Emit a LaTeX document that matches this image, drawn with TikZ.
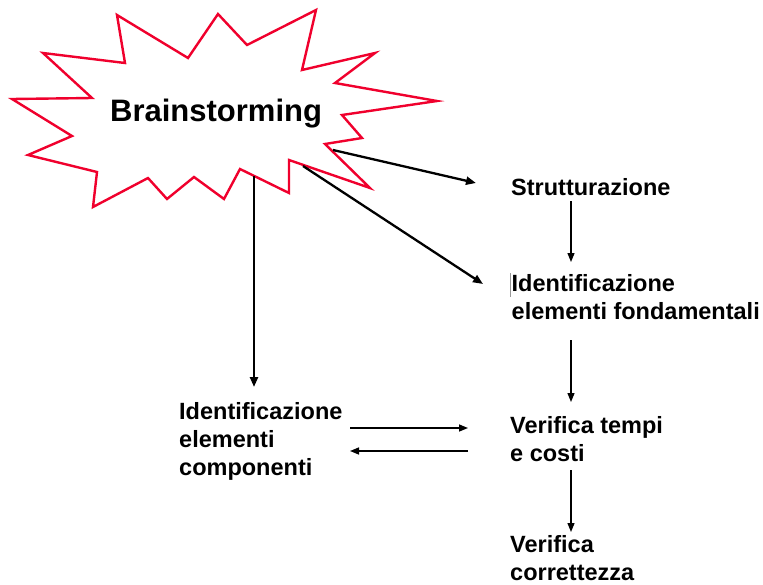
\documentclass[tikz,border=0pt]{standalone}
\usepackage{fontspec}
\setmainfont{Liberation Sans}
\usetikzlibrary{arrows.meta}
\definecolor{burst}{RGB}{240,0,45}
\begin{document}
\begin{tikzpicture}[x=1pt,y=-1pt,
  burstline/.style={draw=burst, line width=2.4pt, line join=miter, fill=white},
  lbl/.style={font=\fontsize{23.5}{28}\selectfont\bfseries, align=left, inner sep=0pt, anchor=base west},
  big/.style={font=\fontsize{31}{36}\selectfont\bfseries, inner sep=0pt, anchor=base west},
  heavy/.style={line width=2.3pt, -{Triangle[length=10pt,width=8pt]}},
  medium/.style={line width=1.5pt, -{Triangle[length=9pt,width=7pt]}},
  light/.style={line width=1.2pt, -{Triangle[length=9pt,width=7pt]}},
]
\useasboundingbox (0,0) rectangle (763,584);
\fill[white] (0,0) rectangle (763,584);

% starburst outline around the title
\draw[burstline] (12,99) -- (92,98) -- (43,53) -- (125,63) -- (117,15)
  -- (188,58) -- (218,14) -- (247,45) -- (316,10) -- (302,70) -- (375,53)
  -- (335,83) -- (437,101) -- (342,115) -- (362,138) -- (325,144)
  -- (370,188) -- (289,160) -- (289,193) -- (240,169) -- (224,199)
  -- (194,177) -- (167,199) -- (148,178) -- (93,207) -- (97,172)
  -- (28,155) -- (72,136) -- cycle;
\node[big] (brain) at (110,121) {Brainstorming};

% text blocks (base anchor sits on the last line)
\node[lbl] (strut) at (511,195) {Strutturazione};
\node[lbl] (idfond) at (511.5,319) {Identificazione\\elementi fondamentali};
\node[lbl] (vertc) at (510,461) {Verifica tempi\\e costi};
\node[lbl] (vercor) at (510,580) {Verifica\\correttezza};
\node[lbl] (idcomp) at (179,475) {Identificazione\\elementi\\componenti};

% text cursor left in front of the second block
\draw[gray!80, line width=0.8pt] (510,273) -- (510,297);

% connector end points
\coordinate (bA) at (333,150);
\coordinate (bB) at (303,166);
\coordinate (bC) at (254,176);
\coordinate (toStrut) at (476,183);
\coordinate (toFond) at (483,284);
\coordinate (toComp) at (254,387);
\coordinate (s1) at (571,201);
\coordinate (f1) at (571,262);
\coordinate (s2) at (571,340);
\coordinate (f2) at (571,402);
\coordinate (s3) at (571,470);
\coordinate (f3) at (571,532);
\coordinate (hL1) at (350,428);
\coordinate (hR1) at (468,428);
\coordinate (hR2) at (468,451);
\coordinate (hL2) at (350,451);

% connectors
\draw[heavy] (bA) -- (toStrut);
\draw[heavy] (bB) -- (toFond);
\draw[heavy] (bC) -- (toComp);
\draw[light] (s1) -- (f1);
\draw[light] (s2) -- (f2);
\draw[light] (s3) -- (f3);
\draw[medium] (hL1) -- (hR1);
\draw[medium] (hR2) -- (hL2);
\end{tikzpicture}
\end{document}
